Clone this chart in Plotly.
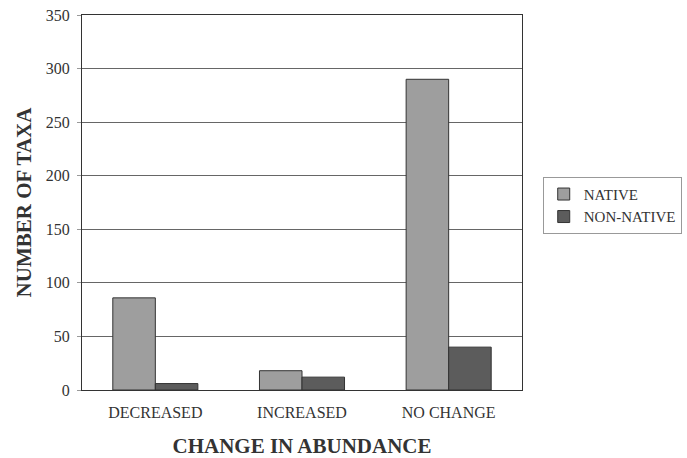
import plotly.graph_objects as go

categories = ["DECREASED", "INCREASED", "NO CHANGE"]
native = [86, 18, 290]
non_native = [6, 12, 40]
y_ticks = [0, 50, 100, 150, 200, 250, 300, 350]

font = "Liberation Serif, Times New Roman, serif"

fig = go.Figure()
fig.add_trace(go.Bar(name="NATIVE", x=categories, y=native,
                     marker=dict(color="#9e9e9e", line=dict(color="#333333", width=1))))
fig.add_trace(go.Bar(name="NON-NATIVE", x=categories, y=non_native,
                     marker=dict(color="#5c5c5c", line=dict(color="#333333", width=1))))

fig.update_layout(
    width=687, height=458,
    margin=dict(l=82, r=165, t=15, b=68, autoexpand=False),
    paper_bgcolor="white", plot_bgcolor="white",
    barmode="group", bargap=0.42, bargroupgap=0,
    font=dict(family=font, color="#333333", size=16),
    legend=dict(x=0.790, y=0.614, xref="container", yref="container",
                xanchor="left", yanchor="top",
                bordercolor="#999999", borderwidth=1,
                font=dict(family=font, size=15, color="#333333"),
                itemwidth=30, tracegroupgap=0),
    xaxis=dict(
        title=dict(text="<b>CHANGE IN ABUNDANCE</b>", font=dict(family=font, size=21, color="#333333"), standoff=22),
        showline=True, linecolor="#333333", linewidth=1, mirror=True,
        ticks="", tickfont=dict(family=font, size=16, color="#333333"),
        ticklabelstandoff=8,
        automargin=False,
    ),
    yaxis=dict(
        title=dict(text="<b>NUMBER OF TAXA</b>", font=dict(family=font, size=21, color="#333333"), standoff=8),
        range=[0, 350], tickvals=y_ticks,
        showline=True, linecolor="#333333", linewidth=1, mirror=True,
        showgrid=True, gridcolor="#666666", gridwidth=1,
        ticks="outside", ticklen=4, tickcolor="#999999",
        tickfont=dict(family=font, size=16, color="#333333"),
        ticklabelstandoff=4,
        zeroline=False, automargin=False,
    ),
)

fig.write_html("out.html", config={"displayModeBar": False},
               post_script="document.body.style.margin='0px';document.body.style.overflow='hidden';")
